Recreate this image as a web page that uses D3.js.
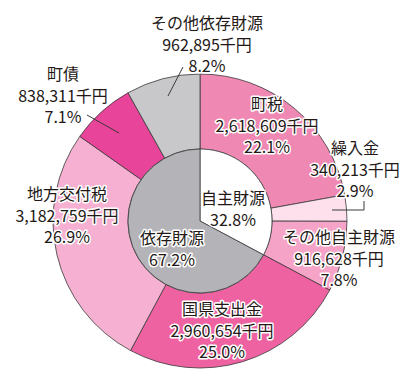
<!DOCTYPE html>
<html><head><meta charset="utf-8">
<script src="https://cdn.jsdelivr.net/npm/d3@7"></script>
<style>
html,body{margin:0;padding:0;background:#fff;}
svg{display:block;}
text{font-family:"Noto Sans CJK JP","Noto Sans",sans-serif;font-size:16px;fill:#231815;}
.halo{paint-order:stroke;stroke:#fff;stroke-width:3px;stroke-linejoin:round;}
</style></head>
<body>
<svg id="c" width="415" height="378"></svg>
<script>
// ---- data ----
const outerCategories = ["町税","繰入金","その他自主財源","国県支出金","地方交付税","町債","その他依存財源"];
const outerValues = [2618609, 340213, 916628, 2960654, 3182759, 838311, 962895];
const outerValueLabels = ["2,618,609千円","340,213千円","916,628千円","2,960,654千円","3,182,759千円","838,311千円","962,895千円"];
const outerPercentLabels = ["22.1%","2.9%","7.8%","25.0%","26.9%","7.1%","8.2%"];
const innerCategories = ["自主財源","依存財源"];
const innerPercents = [32.8, 67.2];
const innerPercentLabels = ["32.8%","67.2%"];

// ---- styles / layout ----
const outerColors = ["#f088b4","#fde0ec","#f5a3c6","#ef62a2","#f6b0d1","#e8449a","#c8c8ca"];
const innerColors = ["#ffffff","#b4b4b8"];
const cx = 200, cy = 221, rOuter = 147, rInner = 72;
// label block positions (center x, first-line baseline-center y)
const outerLabelPos = [[267,103],[355,147],[339,236],[222,308],[67,193],[63,73],[207,22]];
const innerLabelPos = [[233,197],[172,237]];
const lineGap = 21.5;

const svg = d3.select("#c");
const g = svg.append("g").attr("transform",`translate(${cx},${cy})`);

const pie = d3.pie().sort(null).value(d=>d);
const outerArcs = pie(outerValues);
const innerArcs = pie(innerPercents);

const arcOuter = d3.arc().innerRadius(rInner).outerRadius(rOuter);
const arcInner = d3.arc().innerRadius(0).outerRadius(rInner);

g.selectAll("path.o").data(outerArcs).join("path").attr("class","o")
  .attr("d",arcOuter).attr("fill",(d,i)=>outerColors[i])
  .attr("stroke","#3a3a3a").attr("stroke-width",0.8);
g.selectAll("path.i").data(innerArcs).join("path").attr("class","i")
  .attr("d",arcInner).attr("fill",(d,i)=>innerColors[i])
  .attr("stroke","#3a3a3a").attr("stroke-width",0.8);

// leader lines
const lines = [
  [[183,67],[168,96]],
  [[87,115],[119,133]],
  [[332,210],[364,210],[364,201]]
];
lines.forEach(pts=>{
  svg.append("path").attr("d",d3.line()(pts)).attr("fill","none")
    .attr("stroke","#3a3a3a").attr("stroke-width",1);
});

function block(lines, pos){
  const t = svg.append("text").attr("class","halo").attr("text-anchor","middle")
    .attr("x",pos[0]).attr("y",pos[1]);
  lines.forEach((s,k)=>{
    t.append("tspan").attr("x",pos[0]).attr("y",pos[1]+k*lineGap)
      .attr("dominant-baseline","central").text(s);
  });
}
outerCategories.forEach((c,i)=>block([c,outerValueLabels[i],outerPercentLabels[i]],outerLabelPos[i]));
innerCategories.forEach((c,i)=>block([c,innerPercentLabels[i]],innerLabelPos[i]));
</script>
</body></html>
